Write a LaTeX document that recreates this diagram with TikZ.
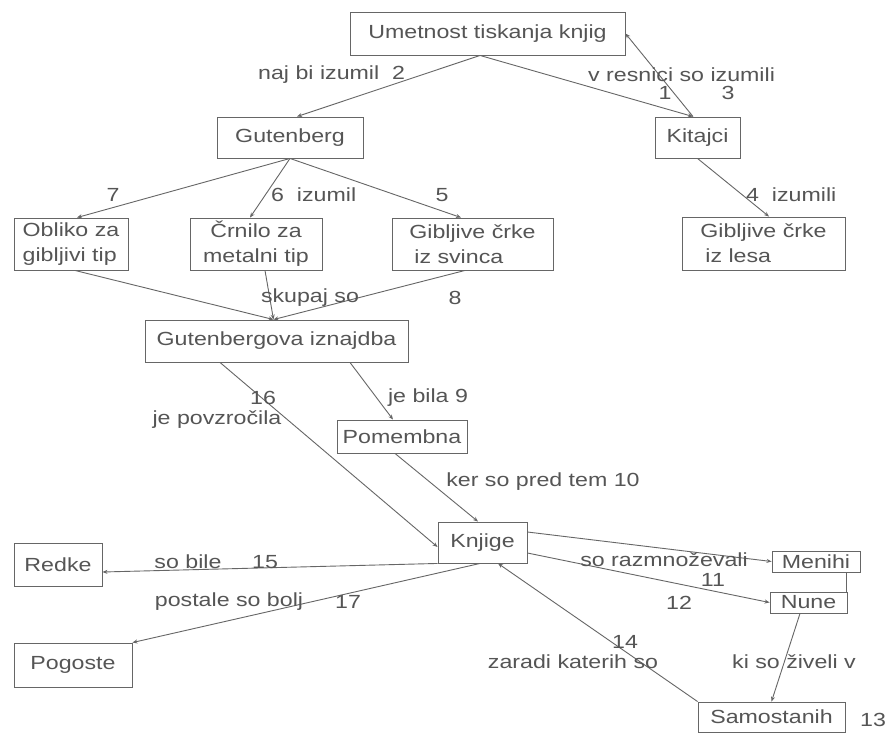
\documentclass[tikz,border=0pt]{standalone}
\usepackage{fontspec}
\setmainfont{Liberation Sans}[FakeStretch=1.22]
\usetikzlibrary{arrows.meta}
\definecolor{txt}{HTML}{555555}
\definecolor{ln}{HTML}{666666}
\begin{document}
\begin{tikzpicture}[x=1pt,y=-1pt,
  box/.style={draw=ln, line width=0.9pt, text=txt, inner sep=0pt, font=\fontsize{19}{25}\selectfont},
  lab/.style={text=txt, inner sep=0pt, font=\fontsize{19}{25}\selectfont},
  con/.style={draw=ln, line width=0.9pt, -{Stealth[length=5pt,width=4pt]}},
  plain/.style={draw=ln, line width=0.9pt}]
\useasboundingbox (0,0) rectangle (888,733);
\fill[white] (0,0) rectangle (888,733);
% nodes
\node[box, minimum width=275pt, minimum height=43pt] (umet) at (487.5,33.5) {Umetnost tiskanja knjig};
\node[box, minimum width=146pt, minimum height=41pt] (gut) at (290,137.5) {Gutenberg};
\node[box, minimum width=85pt, minimum height=41pt] (kit) at (697.5,137.5) {Kitajci};
\node[box, minimum width=114pt, minimum height=52pt, align=left] (obl) at (71,244) {Obliko za\\gibljivi tip};
\node[box, minimum width=132pt, minimum height=52pt, align=center] (crn) at (256,244) {Črnilo za\\metalni tip};
\node[box, minimum width=161pt, minimum height=52pt, align=left] (svi) at (472.5,244) {Gibljive črke\\\hspace{5pt}iz svinca};
\node[box, minimum width=163pt, minimum height=53pt, align=left] (les) at (763.5,243.5) {Gibljive črke\\\hspace{5pt}iz lesa};
\node[box, minimum width=263pt, minimum height=42pt] (gi) at (276.5,341) {Gutenbergova iznajdba};
\node[box, minimum width=130pt, minimum height=33pt] (pom) at (402,436.5) {Pomembna};
\node[box, minimum width=89pt, minimum height=41pt] (knj) at (482.5,542.5) {Knjige};
\node[box, minimum width=88pt, minimum height=43pt] (red) at (58,564.5) {Redke};
\node[box, minimum width=118pt, minimum height=44pt] (pog) at (73,665) {Pogoste};
\node[box, minimum width=88pt, minimum height=21pt] (men) at (816,561.5) {Menihi};
\node[box, minimum width=77pt, minimum height=21pt] (nun) at (808.5,602.5) {Nune};
\node[box, minimum width=147pt, minimum height=30pt] (sam) at (771.5,717) {Samostanih};
% connectors
\draw[con] ([xshift=-7.5pt]umet.south) -- ([xshift=7pt]gut.north);
\draw[con] ([xshift=-7.5pt]umet.south) -- ([xshift=-4.5pt]kit.north);
\draw[con] ([xshift=-4.5pt]kit.north) -- (umet.east);
\draw[con] (gut.south) -- ([xshift=6pt]obl.north);
\draw[con] (gut.south) -- ([xshift=-6pt]crn.north);
\draw[con] (gut.south) -- ([xshift=-11.5pt]svi.north);
\draw[con] (kit.south) -- ([xshift=5.5pt]les.north);
\draw[con] ([xshift=4pt]obl.south) -- ([xshift=-3pt]gi.north);
\draw[con] ([xshift=9pt]crn.south) -- ([xshift=-3pt]gi.north);
\draw[con] ([xshift=-7.5pt]svi.south) -- ([xshift=-3pt]gi.north);
\draw[con] ([xshift=-56.5pt]gi.south) -- ([yshift=-4.5pt]knj.west);
\draw[con] ([xshift=73.5pt]gi.south) -- ([xshift=-9pt]pom.north);
\draw[con] ([xshift=-7pt]pom.south) -- ([xshift=-4.5pt]knj.north);
\draw[con] ([yshift=10.5pt]knj.east) -- (men.west);
\draw[con] ([yshift=-10.5pt]knj.east) -- (nun.west);
\draw[con] ([xshift=-8.5pt]nun.south) -- (sam.north);
\draw[plain] ([xshift=30pt]men.south) -- ([xshift=37.5pt]nun.north);
\draw[con] (sam.north west) -- ([xshift=15.5pt]knj.south);
\draw[con] (knj.south west) -- ([yshift=-7.5pt]red.east);
\draw[con] ([xshift=-2.5pt]knj.south) -- (pog.north east);
% labels
\node[lab, anchor=west] (l2) at (258,75) {naj bi izumil\ \ 2};
\node[lab, anchor=west] (l1a) at (588,75) {v resnici so izumili};
\node[lab] (l1) at (665,93) {1};
\node[lab] (l3) at (728,93) {3};
\node[lab] (l7) at (113,195) {7};
\node[lab, anchor=west] (l6) at (271,195) {6\ \ izumil};
\node[lab] (l5) at (442,195) {5};
\node[lab, anchor=west] (l4) at (746,195) {4\ \ izumili};
\node[lab] (lsk) at (310,298) {skupaj so};
\node[lab] (l8) at (455,298) {8};
\node[lab] (l16) at (263,398) {16};
\node[lab] (lpov) at (217,420) {je povzročila};
\node[lab] (l9) at (428,398) {je bila 9};
\node[lab] (l10) at (543,482) {ker so pred tem 10};
\node[lab] (lbile) at (188,562) {so bile};
\node[lab] (l15) at (265,562) {15};
\node[lab] (lpost) at (229,602) {postale so bolj};
\node[lab] (l17) at (348,602) {17};
\node[lab] (lraz) at (664,560) {so razmnoževali};
\node[lab] (l11) at (713,580) {11};
\node[lab] (l12) at (679,603) {12};
\node[lab] (l14) at (625,642) {14};
\node[lab] (lzar) at (573,662) {zaradi katerih so};
\node[lab] (lziv) at (794,662) {ki so živeli v};
\node[lab] (l13) at (873,720) {13};
\end{tikzpicture}
\end{document}
